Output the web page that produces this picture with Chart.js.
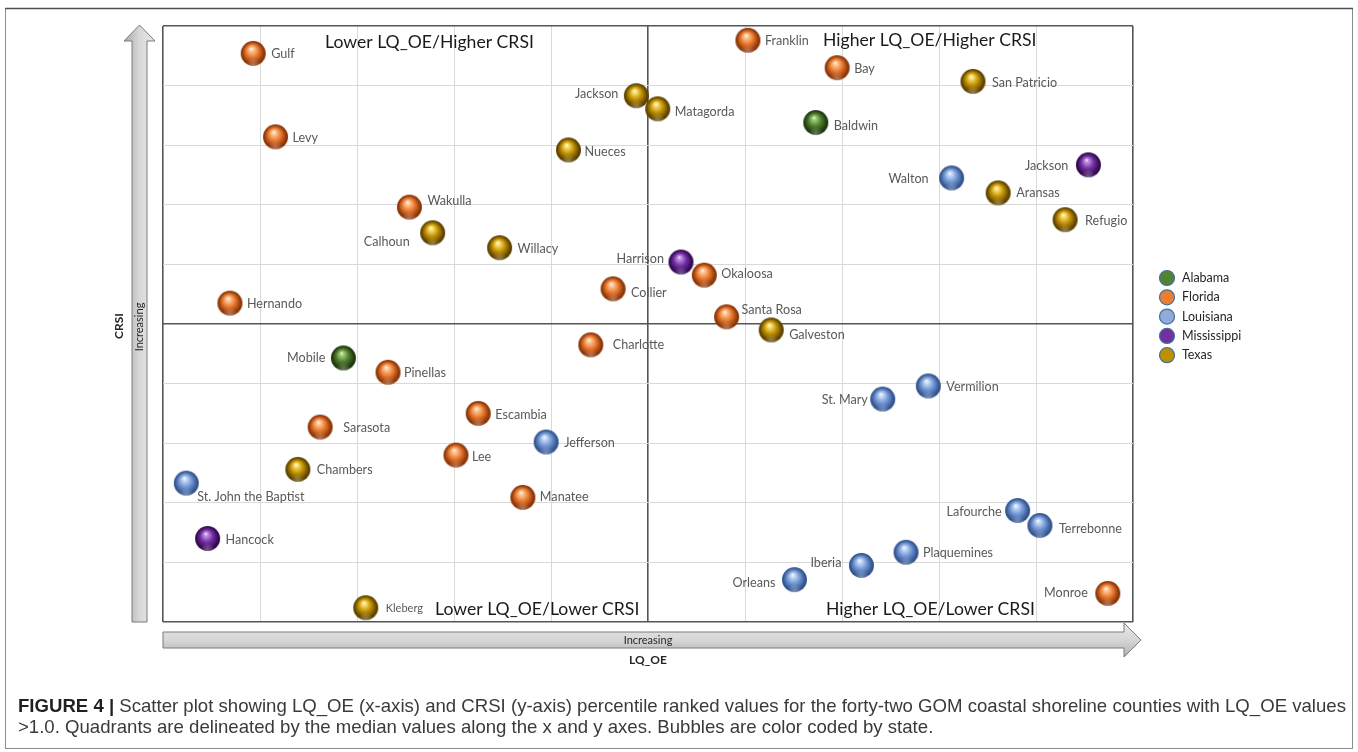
<!DOCTYPE html>
<html>
<head>
<meta charset="utf-8">
<script src="https://cdn.jsdelivr.net/npm/chart.js@4.4.1/dist/chart.umd.min.js"></script>
<style>
  html, body { margin: 0; padding: 0; background: #ffffff; }
  #wrap { position: relative; width: 1358px; height: 752px; }
  canvas { display: block; }
</style>
</head>
<body>
<div id="wrap"><canvas id="c" width="1358" height="752"></canvas></div>
<script>
// ---------------- DATA ----------------
const counties = ['Gulf','Levy','Wakulla','Calhoun','Willacy','Hernando','Nueces','Jackson','Matagorda','Collier',
  'Franklin','Bay','San Patricio','Baldwin','Jackson','Walton','Aransas','Refugio','Harrison','Okaloosa',
  'Santa Rosa','Galveston','Charlotte','Mobile','Pinellas','Vermilion','St. Mary','Escambia','Sarasota','Jefferson',
  'Lee','Chambers','St. John the Baptist','Manatee','Lafourche','Terrebonne','Hancock','Plaquemines','Iberia','Orleans',
  'Monroe','Kleberg'];
const states = ['Florida','Florida','Florida','Texas','Texas','Florida','Texas','Texas','Texas','Florida',
  'Florida','Florida','Texas','Alabama','Mississippi','Louisiana','Texas','Texas','Mississippi','Florida',
  'Florida','Texas','Florida','Alabama','Florida','Louisiana','Louisiana','Florida','Florida','Louisiana',
  'Florida','Texas','Louisiana','Florida','Louisiana','Louisiana','Mississippi','Louisiana','Louisiana','Louisiana',
  'Florida','Texas'];
const lqOE = [9.3, 11.6, 25.4, 27.8, 34.7, 6.9, 41.8, 48.8, 51.0, 46.4,
  60.3, 69.5, 83.5, 67.3, 95.4, 81.3, 86.1, 93.0, 53.4, 55.8,
  58.1, 62.7, 44.1, 18.6, 23.2, 78.9, 74.2, 32.5, 16.2, 39.5,
  30.2, 13.9, 2.4, 37.1, 88.1, 90.4, 4.6, 76.6, 72.0, 65.1,
  97.4, 20.9];
const crsi = [95.4, 81.4, 69.6, 65.3, 62.8, 53.5, 79.2, 88.3, 86.1, 55.9,
  97.6, 93.0, 90.7, 83.8, 76.7, 74.5, 72.0, 67.5, 60.4, 58.2,
  51.2, 49.0, 46.5, 44.3, 41.9, 39.6, 37.4, 35.0, 32.7, 30.2,
  28.0, 25.6, 23.3, 20.9, 18.7, 16.2, 14.0, 11.7, 9.5, 7.1,
  4.8, 2.4];
const stateOrder = ['Alabama','Florida','Louisiana','Mississippi','Texas'];
const quadrantTitles = ['Lower LQ_OE/Higher CRSI','Higher LQ_OE/Higher CRSI','Lower LQ_OE/Lower CRSI','Higher LQ_OE/Lower CRSI'];
const xAxisTitle = 'LQ_OE', yAxisTitle = 'CRSI', arrowText = 'Increasing';
const captionBold = 'FIGURE 4 | ';
const captionLine1 = 'Scatter plot showing LQ_OE (x-axis) and CRSI (y-axis) percentile ranked values for the forty-two GOM coastal shoreline counties with LQ_OE values';
const captionLine2 = '>1.0. Quadrants are delineated by the median values along the x and y axes. Bubbles are color coded by state.';

// ---------------- STYLE ----------------
const stateStyle = {
  Alabama:     { base:'#4f7f2f', light:'#a9d486', dark:'#22380f', legend:'#548235' },
  Florida:     { base:'#ea7a30', light:'#ffd2a6', dark:'#8c3608', legend:'#ed7d31' },
  Louisiana:   { base:'#7399d6', light:'#d2e2fa', dark:'#34558f', legend:'#8faadc' },
  Mississippi: { base:'#7330a6', light:'#c79ae6', dark:'#33094f', legend:'#7030a0' },
  Texas:       { base:'#c29200', light:'#ffe680', dark:'#5e4300', legend:'#bf9000' }
};
// label offsets [dx, dy, align]
const labelPlace = {
  'Gulf|Florida':[18,1,'left'], 'Levy|Florida':[17,1,'left'], 'Wakulla|Florida':[18,-6,'left'],
  'Calhoun|Texas':[-23,9,'right'], 'Willacy|Texas':[18,1,'left'], 'Hernando|Florida':[17,1,'left'],
  'Nueces|Texas':[16,2,'left'], 'Jackson|Texas':[-18,-2,'right'], 'Matagorda|Texas':[17,3,'left'],
  'Collier|Florida':[18,4,'left'], 'Franklin|Florida':[17,1,'left'], 'Bay|Florida':[17,1,'left'],
  'San Patricio|Texas':[19,2,'left'], 'Baldwin|Alabama':[18,3,'left'], 'Jackson|Mississippi':[-20,1,'right'],
  'Walton|Louisiana':[-23,1,'right'], 'Aransas|Texas':[18,0,'left'], 'Refugio|Texas':[20,1,'left'],
  'Harrison|Mississippi':[-17,-3,'right'], 'Okaloosa|Florida':[17,-1,'left'], 'Santa Rosa|Florida':[15,-7,'left'],
  'Galveston|Texas':[18,5,'left'], 'Charlotte|Florida':[22,0,'left'], 'Mobile|Alabama':[-18,0,'right'],
  'Pinellas|Florida':[16,1,'left'], 'Vermilion|Louisiana':[18,1,'left'], 'St. Mary|Louisiana':[-15,1,'right'],
  'Escambia|Florida':[17,2,'left'], 'Sarasota|Florida':[23,1,'left'], 'Jefferson|Louisiana':[18,1,'left'],
  'Lee|Florida':[16,2,'left'], 'Chambers|Texas':[19,1,'left'], 'St. John the Baptist|Louisiana':[11,14,'left'],
  'Manatee|Florida':[17,0,'left'], 'Lafourche|Louisiana':[-16,1,'right'], 'Terrebonne|Louisiana':[19,3,'left'],
  'Hancock|Mississippi':[18,1,'left'], 'Plaquemines|Louisiana':[17,1,'left'], 'Iberia|Louisiana':[-20,-2,'right'],
  'Orleans|Louisiana':[-19,3,'right'], 'Monroe|Florida':[-20,0,'right'], 'Kleberg|Texas':[20,1,'left']
};
const FONT = 'Lato, "Open Sans", sans-serif';

function sphere(st, r) {
  const s = 2 * r + 2, c = document.createElement('canvas');
  c.width = s; c.height = s;
  const g = c.getContext('2d'), cx = s / 2, cy = s / 2;
  const grad = g.createRadialGradient(cx - 0.15 * r, cy - 0.4 * r, 0, cx, cy, r);
  grad.addColorStop(0, '#ffffff');
  grad.addColorStop(0.12, st.light);
  grad.addColorStop(0.5, st.base);
  grad.addColorStop(0.88, st.dark);
  grad.addColorStop(1, st.dark);
  g.beginPath(); g.arc(cx, cy, r, 0, Math.PI * 2); g.fillStyle = grad; g.fill();
  const g2 = g.createRadialGradient(cx, cy + 0.95 * r, 0, cx, cy + 0.95 * r, 0.6 * r);
  g2.addColorStop(0, 'rgba(255,255,255,0.35)'); g2.addColorStop(1, 'rgba(255,255,255,0)');
  g.save(); g.beginPath(); g.arc(cx, cy, r, 0, Math.PI * 2); g.clip();
  g.fillStyle = g2; g.fillRect(0, 0, s, s); g.restore();
  return c;
}

const datasets = stateOrder.map(st => {
  const idx = counties.map((_, i) => i).filter(i => states[i] === st);
  return {
    label: st,
    data: idx.map(i => ({ x: lqOE[i], y: crsi[i], name: counties[i], state: st })),
    pointStyle: sphere(stateStyle[st], 12.5),
    pointRadius: 12.5,
    backgroundColor: stateStyle[st].legend
  };
});

function fitFont(ctx, text, weight, family, targetW) {
  ctx.font = weight + ' 20px ' + family;
  const w = ctx.measureText(text).width;
  return 20 * targetW / w;
}

const decor = {
  id: 'decor',
  beforeDraw(chart) {
    const ctx = chart.ctx, a = chart.chartArea;
    ctx.save();
    ctx.fillStyle = '#ffffff'; ctx.fillRect(0, 0, chart.width, chart.height);
    ctx.strokeStyle = '#8c8c8c'; ctx.lineWidth = 1;
    ctx.strokeRect(5.5, 8.5, 1347, 740);
    ctx.strokeStyle = '#505050'; ctx.lineWidth = 1.5;
    ctx.beginPath(); ctx.moveTo(5, 8.5); ctx.lineTo(1353, 8.5); ctx.stroke();

    const vx1 = 132, vx2 = 147, vh1 = 124, vh2 = 155, vtip = 25, vbase = 41, vbot = a.bottom;
    let gr = ctx.createLinearGradient(vh1, 0, vh2, 0);
    gr.addColorStop(0, '#a8a8a8'); gr.addColorStop(0.5, '#d8d8d8'); gr.addColorStop(1, '#e8e8e8');
    ctx.beginPath();
    ctx.moveTo((vx1 + vx2) / 2, vtip); ctx.lineTo(vh2, vbase); ctx.lineTo(vx2, vbase); ctx.lineTo(vx2, vbot);
    ctx.lineTo(vx1, vbot); ctx.lineTo(vx1, vbase); ctx.lineTo(vh1, vbase); ctx.closePath();
    ctx.fillStyle = gr; ctx.fill(); ctx.strokeStyle = '#7a7a7a'; ctx.lineWidth = 1; ctx.stroke();
    const hy1 = 632, hy2 = 648, hh1 = 623, hh2 = 657, htip = 1141, hbase = 1124, hleft = a.left;
    gr = ctx.createLinearGradient(0, hh1, 0, hh2);
    gr.addColorStop(0, '#e8e8e8'); gr.addColorStop(0.5, '#d6d6d6'); gr.addColorStop(1, '#b0b0b0');
    ctx.beginPath();
    ctx.moveTo(htip, (hy1 + hy2) / 2); ctx.lineTo(hbase, hh2); ctx.lineTo(hbase, hy2); ctx.lineTo(hleft, hy2);
    ctx.lineTo(hleft, hy1); ctx.lineTo(hbase, hy1); ctx.lineTo(hbase, hh1); ctx.closePath();
    ctx.fillStyle = gr; ctx.fill(); ctx.strokeStyle = '#7a7a7a'; ctx.stroke();

    ctx.fillStyle = '#262626'; ctx.textAlign = 'center'; ctx.textBaseline = 'middle';
    ctx.font = '11px ' + FONT;
    ctx.fillText(arrowText, 648, 640);
    ctx.font = 'bold 12px ' + FONT;
    ctx.fillText(xAxisTitle, 648, 660);
    ctx.save(); ctx.translate(139.5, 327); ctx.rotate(-Math.PI / 2);
    ctx.font = '11px ' + FONT; ctx.fillText(arrowText, 0, 0); ctx.restore();
    ctx.save(); ctx.translate(119, 326); ctx.rotate(-Math.PI / 2);
    ctx.font = 'bold 12px ' + FONT; ctx.fillText(yAxisTitle, 0, 0); ctx.restore();

    ctx.textAlign = 'left';
    stateOrder.forEach((st, i) => {
      const y = 278 + i * 19.3;
      ctx.beginPath(); ctx.arc(1167, y, 7.5, 0, Math.PI * 2);
      ctx.fillStyle = stateStyle[st].legend; ctx.fill();
      ctx.strokeStyle = '#41719c'; ctx.lineWidth = 1.2; ctx.stroke();
      ctx.fillStyle = '#262626'; ctx.font = '12.5px ' + FONT;
      ctx.fillText(st, 1182, y);
    });

    const cf = '"Liberation Sans Narrow", "Liberation Sans", Arial, sans-serif';
    ctx.textBaseline = 'alphabetic';
    ctx.font = 'bold 15px ' + cf;
    const bw = ctx.measureText(captionBold).width;
    ctx.font = '15px ' + cf;
    const lw = ctx.measureText(captionLine1).width;
    const fs = 15 * (1347 - 18) / (bw + lw);
    ctx.fillStyle = '#231f20';
    ctx.font = 'bold ' + fs + 'px ' + cf;
    ctx.fillText(captionBold, 18, 712);
    const bw2 = ctx.measureText(captionBold).width;
    ctx.fillStyle = '#3a3a3a';
    ctx.font = fs + 'px ' + cf;
    ctx.fillText(captionLine1, 18 + bw2, 712);
    ctx.fillText(captionLine2, 18, 733);
    ctx.restore();
  },
  afterDatasetsDraw(chart) {
    const ctx = chart.ctx;
    ctx.save();
    ctx.textBaseline = 'middle';
    chart.data.datasets.forEach((ds, di) => {
      const meta = chart.getDatasetMeta(di);
      ds.data.forEach((d, j) => {
        const el = meta.data[j];
        const p = labelPlace[d.name + '|' + d.state] || [17, 1, 'left'];
        ctx.fillStyle = '#595959';
        ctx.font = (d.name === 'Kleberg' ? '11px ' : '12.6px ') + FONT;
        ctx.textAlign = p[2];
        ctx.fillText(d.name, el.x + p[0], el.y + p[1]);
      });
    });
    ctx.fillStyle = '#1a1a1a'; ctx.textAlign = 'left'; ctx.textBaseline = 'middle';
    const fsq = fitFont(ctx, quadrantTitles[0], '', FONT, 209);
    ctx.font = fsq + 'px ' + FONT;
    ctx.fillText(quadrantTitles[0], 325, 42);
    ctx.fillText(quadrantTitles[1], 823, 40);
    ctx.fillText(quadrantTitles[2], 435, 609);
    ctx.fillText(quadrantTitles[3], 826, 609);
    ctx.restore();
  }
};

const gridColor = c => (c.tick.value === 50 || c.tick.value === 0 || c.tick.value === 100) ? '#555555' : '#d9d9d9';
const gridWidth = c => (c.tick.value === 50 || c.tick.value === 0 || c.tick.value === 100) ? 1.6 : 1;

new Chart(document.getElementById('c'), {
  type: 'scatter',
  data: { datasets },
  options: {
    responsive: false,
    devicePixelRatio: 1,
    animation: false,
    events: [],
    layout: { padding: { left: 163, right: 225, top: 26, bottom: 130 } },
    plugins: { legend: { display: false }, tooltip: { enabled: false } },
    scales: {
      x: { type: 'linear', min: 0, max: 100,
        ticks: { display: false, stepSize: 10 },
        grid: { color: gridColor, lineWidth: gridWidth, drawTicks: false },
        border: { display: false } },
      y: { type: 'linear', min: 0, max: 100,
        ticks: { display: false, stepSize: 10 },
        grid: { color: gridColor, lineWidth: gridWidth, drawTicks: false },
        border: { display: false } }
    }
  },
  plugins: [decor]
});
</script>
</body>
</html>
